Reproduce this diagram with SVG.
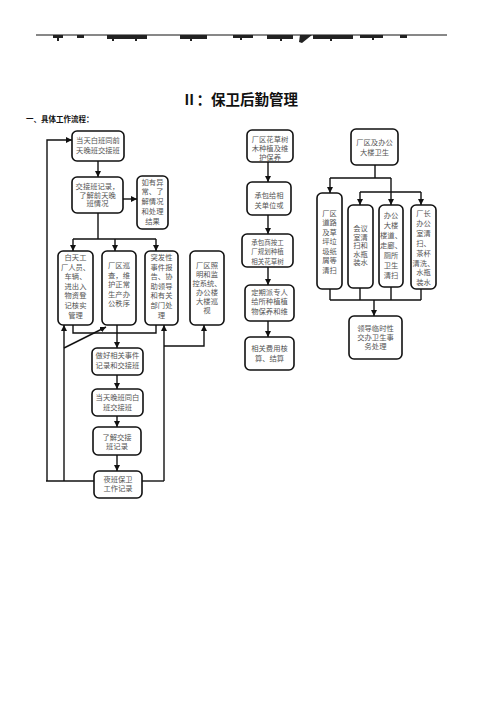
<svg xmlns="http://www.w3.org/2000/svg" width="496" height="702" viewBox="0 0 496 702">
<style>
.bx{fill:#fff;stroke:#111;stroke-width:1.6}
.t{font-family:"Noto Sans CJK SC","Noto Sans",sans-serif;font-size:7.3px;fill:#555;text-anchor:middle}
.c{fill:none;stroke:#111;stroke-width:1.4}
.a{marker-end:url(#ah)}
</style>
<defs>
<marker id="ah" markerUnits="userSpaceOnUse" markerWidth="6" markerHeight="6" refX="6" refY="3" orient="auto"><path d="M0,0 L6,3 L0,6 z" fill="#111"/></marker>
</defs>
<rect width="496" height="702" fill="#fff"/>
<g id="header">
<line x1="36" y1="35" x2="447" y2="35" stroke="#111" stroke-width="1"/>
<g fill="#222">
<rect x="53" y="35" width="10" height="3"/><rect x="57" y="35" width="2" height="6"/>
<rect x="77" y="35" width="7" height="3"/>
<rect x="107" y="35" width="40" height="4"/><rect x="112" y="35" width="2" height="6"/><rect x="135" y="35" width="2" height="6"/>
<rect x="180" y="35" width="27" height="4"/><rect x="190" y="35" width="2" height="6"/>
<rect x="233" y="35" width="20" height="3"/><rect x="240" y="35" width="2" height="5"/>
<rect x="267" y="35" width="26" height="4"/><rect x="280" y="35" width="2" height="6"/>
<path d="M300,35 L312,35 L302,43 L299,42 z"/>
<rect x="313" y="35" width="40" height="4"/><rect x="330" y="35" width="2" height="6"/>
<rect x="360" y="35" width="23" height="3"/><rect x="372" y="35" width="2" height="5"/>
<rect x="400" y="35" width="7" height="3"/>
</g>
</g>
<text x="240" y="105" style="font-family:'Noto Sans CJK SC',sans-serif;font-size:14.5px;font-weight:bold;fill:#111;text-anchor:middle">Ⅱ：保卫后勤管理</text>
<text x="26" y="122" style="font-family:'Noto Sans CJK SC',sans-serif;font-size:7.5px;font-weight:bold;fill:#111">一、具体工作流程：</text>

<g id="connectors">
<path class="c a" d="M47,481 L47,140 L72,140"/>
<path class="c" d="M46,481 L94,481" stroke-width="2.2"/>
<path class="c a" d="M64,481 L64,325"/>
<path class="c a" d="M64,348 L106,327"/>
<path class="c" d="M73,325 L73,333 L156,333 L156,325"/>
<path class="c a" d="M117,325 L117,348"/>
<path class="c" d="M142,481 L164,481"/>
<path class="c a" d="M164,481 L164,325"/>
<path class="c a" d="M164,346 L204,346 L204,325"/>
<path class="c a" d="M98,161 L98,177"/>
<path class="c a" d="M123,199 L137,199"/>
<path class="c" d="M98,213 L98,239 M73,239 L156,239"/>
<path class="c a" d="M73,239 L73,251"/>
<path class="c a" d="M115,239 L115,251"/>
<path class="c a" d="M156,239 L156,251"/>
<path class="c a" d="M117,375 L117,389"/>
<path class="c a" d="M117,416 L117,427"/>
<path class="c a" d="M117,455 L117,471"/>
<path class="c a" d="M268,162 L268,182"/>
<path class="c a" d="M268,215 L268,234"/>
<path class="c a" d="M268,267 L268,285"/>
<path class="c a" d="M268,321 L268,337"/>
<path class="c" d="M375,165 L375,178 M330,178 L391,178 M360,192 L421,192"/>
<path class="c a" d="M330,178 L330,193"/>
<path class="c a" d="M391,178 L391,205"/>
<path class="c a" d="M360,192 L360,205"/>
<path class="c a" d="M421,192 L421,205"/>
<path class="c" d="M330,289 L330,300 M360,288 L360,300 M391,287 L391,300 M421,289 L421,300 M330,300 L421,300"/>
<path class="c a" d="M374,300 L374,316"/>
</g>

<g id="nA"><rect class="bx" x="72" y="131" width="52" height="30" rx="5"/><text class="t"><tspan x="98" y="143">当天白班同前</tspan><tspan x="98" y="153">天晚班交接班</tspan></text></g>
<g id="nB"><rect class="bx" x="72" y="177" width="51" height="36" rx="5"/><text class="t"><tspan x="97.5" y="189">交接班记录，</tspan><tspan x="97.5" y="197.5">了解前天晚</tspan><tspan x="97.5" y="206">班情况</tspan></text></g>
<g id="nC"><rect class="bx" x="137" y="176" width="31" height="53" rx="5"/><text class="t"><tspan x="152.5" y="184.5">如有异</tspan><tspan x="152.5" y="194.2">常、了</tspan><tspan x="152.5" y="204">解情况</tspan><tspan x="152.5" y="213.7">和处理</tspan><tspan x="152.5" y="223.5">结果</tspan></text></g>
<g id="nD"><rect class="bx" x="58" y="251" width="35" height="74" rx="5"/><text class="t"><tspan x="75.5" y="260">白天工</tspan><tspan x="75.5" y="269.6">厂人员、</tspan><tspan x="75.5" y="279.2">车辆、</tspan><tspan x="75.5" y="288.8">进出入</tspan><tspan x="75.5" y="298.4">物资登</tspan><tspan x="75.5" y="308">记核实</tspan><tspan x="75.5" y="317.6">管理</tspan></text></g>
<g id="nE"><rect class="bx" x="102" y="251" width="34" height="74" rx="5"/><text class="t"><tspan x="119" y="268">厂区巡</tspan><tspan x="119" y="277.5">查，维</tspan><tspan x="119" y="287">护正常</tspan><tspan x="119" y="296.5">生产办</tspan><tspan x="119" y="306">公秩序</tspan></text></g>
<g id="nF"><rect class="bx" x="145" y="251" width="33" height="74" rx="5"/><text class="t"><tspan x="161.5" y="260">突发性</tspan><tspan x="161.5" y="269.6">事件报</tspan><tspan x="161.5" y="279.2">告、协</tspan><tspan x="161.5" y="288.8">助领导</tspan><tspan x="161.5" y="298.4">和有关</tspan><tspan x="161.5" y="308">部门处</tspan><tspan x="161.5" y="317.6">理</tspan></text></g>
<g id="nG"><rect class="bx" x="190" y="251" width="34" height="74" rx="5"/><text class="t"><tspan x="207" y="268">厂区照</tspan><tspan x="207" y="277">明和监</tspan><tspan x="207" y="286">控系统、</tspan><tspan x="207" y="295">办公楼</tspan><tspan x="207" y="304">大楼巡</tspan><tspan x="207" y="313">视</tspan></text></g>
<g id="nH"><rect class="bx" x="92" y="348" width="51" height="27" rx="5"/><text class="t"><tspan x="117.5" y="358">做好相关事件</tspan><tspan x="117.5" y="368">记录和交接班</tspan></text></g>
<g id="nI"><rect class="bx" x="92" y="389" width="51" height="27" rx="5"/><text class="t"><tspan x="117.5" y="399.5">当天晚班同白</tspan><tspan x="117.5" y="410">班交接班</tspan></text></g>
<g id="nJ"><rect class="bx" x="93" y="427" width="48" height="28" rx="5"/><text class="t"><tspan x="117" y="439.5">了解交接</tspan><tspan x="117" y="448.5">班记录</tspan></text></g>
<g id="nK"><rect class="bx" x="94" y="471" width="48" height="27" rx="5"/><text class="t"><tspan x="118" y="482">夜班保卫</tspan><tspan x="118" y="491">工作记录</tspan></text></g>
<g id="nL"><rect class="bx" x="247" y="130" width="46" height="32" rx="5"/><text class="t"><tspan x="270" y="141.5">厂区花草树</tspan><tspan x="270" y="150.5">木种植及维</tspan><tspan x="270" y="159.5">护保养</tspan></text></g>
<g id="nM"><rect class="bx" x="247" y="182" width="44" height="33" rx="5"/><text class="t"><tspan x="269" y="197.5">承包给相</tspan><tspan x="269" y="207.5">关单位或</tspan></text></g>
<g id="nN"><rect class="bx" x="242" y="234" width="51" height="33" rx="5"/><text class="t" style="font-size:6.5px"><tspan x="267.5" y="244.5">承包商按工</tspan><tspan x="267.5" y="254">厂规划种植</tspan><tspan x="267.5" y="263.5">相关花草树</tspan></text></g>
<g id="nO"><rect class="bx" x="245" y="285" width="49" height="36" rx="5"/><text class="t"><tspan x="269.5" y="294.5">定期派专人</tspan><tspan x="269.5" y="304">给所种植植</tspan><tspan x="269.5" y="313.5">物保养和维</tspan></text></g>
<g id="nP"><rect class="bx" x="245" y="337" width="49" height="33" rx="5"/><text class="t"><tspan x="269.5" y="351">相关费用核</tspan><tspan x="269.5" y="361">算、结算</tspan></text></g>
<g id="nQ"><rect class="bx" x="351" y="129" width="47" height="36" rx="5"/><text class="t"><tspan x="374.5" y="144.5">厂区及办公</tspan><tspan x="374.5" y="154.5">大楼卫生</tspan></text></g>
<g id="nR"><rect class="bx" x="317" y="193" width="25" height="96" rx="5"/><text class="t"><tspan x="329.5" y="215.7">厂区</tspan><tspan x="329.5" y="225.2">道路</tspan><tspan x="329.5" y="234.7">及草</tspan><tspan x="329.5" y="244.2">坪垃</tspan><tspan x="329.5" y="253.7">圾纸</tspan><tspan x="329.5" y="263.2">屑等</tspan><tspan x="329.5" y="272.7">清扫</tspan></text></g>
<g id="nS"><rect class="bx" x="348" y="205" width="25" height="83" rx="5"/><text class="t"><tspan x="360.5" y="231">会议</tspan><tspan x="360.5" y="239.5">室清</tspan><tspan x="360.5" y="248">扫和</tspan><tspan x="360.5" y="256.5">水瓶</tspan><tspan x="360.5" y="265">装水</tspan></text></g>
<g id="nT"><rect class="bx" x="379" y="205" width="24" height="82" rx="5"/><text class="t"><tspan x="391" y="218">办公</tspan><tspan x="391" y="228">大楼</tspan><tspan x="391" y="238">楼道、</tspan><tspan x="391" y="248">走廊、</tspan><tspan x="391" y="258">厕所</tspan><tspan x="391" y="268">卫生</tspan><tspan x="391" y="278">清扫</tspan></text></g>
<g id="nU"><rect class="bx" x="411" y="205" width="25" height="84" rx="5"/><text class="t"><tspan x="423.5" y="216">厂长</tspan><tspan x="423.5" y="225.9">办公</tspan><tspan x="423.5" y="235.8">室清</tspan><tspan x="423.5" y="245.7">扫、</tspan><tspan x="423.5" y="255.6">茶杯</tspan><tspan x="423.5" y="265.5">清洗、</tspan><tspan x="423.5" y="275.4">水瓶</tspan><tspan x="423.5" y="285.3">装水</tspan></text></g>
<g id="nV"><rect class="bx" x="349" y="316" width="53" height="43" rx="5"/><text class="t"><tspan x="375.5" y="331">领导临时性</tspan><tspan x="375.5" y="340">交办卫生事</tspan><tspan x="375.5" y="349">务处理</tspan></text></g>
</svg>
